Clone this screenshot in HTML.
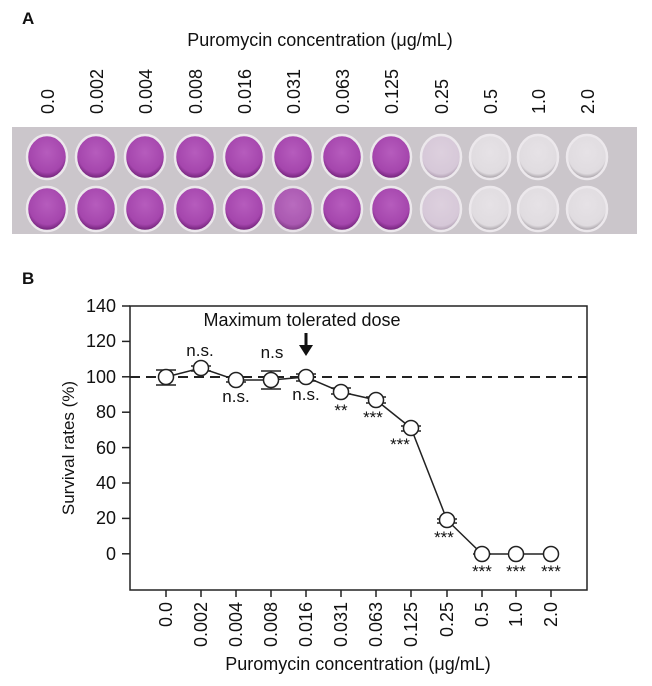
<!DOCTYPE html>
<html><head><meta charset="utf-8"><style>body{margin:0;background:#fff}svg{display:block}text{font-family:"Liberation Sans",Arial,sans-serif;fill:#111}</style></head>
<body>
<svg width="652" height="686" viewBox="0 0 652 686">
<defs>
<radialGradient id="p" cx="50%" cy="40%" r="60%"><stop offset="0" stop-color="#b65cbd"/><stop offset="0.75" stop-color="#a546ad"/><stop offset="1" stop-color="#6a1d72"/></radialGradient>
<radialGradient id="l" cx="50%" cy="40%" r="60%"><stop offset="0" stop-color="#ddd0de"/><stop offset="0.8" stop-color="#d6c8d8"/><stop offset="1" stop-color="#a896aa"/></radialGradient>
<radialGradient id="w" cx="50%" cy="40%" r="60%"><stop offset="0" stop-color="#e6e2e6"/><stop offset="0.8" stop-color="#e0dce0"/><stop offset="1" stop-color="#9c969c"/></radialGradient>
</defs>
<text x="22" y="24" font-size="17" font-weight="bold">A</text>
<text x="320" y="46" font-size="18" text-anchor="middle">Puromycin concentration (μg/mL)</text>
<g font-size="18">
<text transform="translate(54,114) rotate(-90)">0.0</text>
<text transform="translate(103,114) rotate(-90)">0.002</text>
<text transform="translate(152,114) rotate(-90)">0.004</text>
<text transform="translate(202,114) rotate(-90)">0.008</text>
<text transform="translate(251,114) rotate(-90)">0.016</text>
<text transform="translate(300,114) rotate(-90)">0.031</text>
<text transform="translate(349,114) rotate(-90)">0.063</text>
<text transform="translate(398,114) rotate(-90)">0.125</text>
<text transform="translate(448,114) rotate(-90)">0.25</text>
<text transform="translate(497,114) rotate(-90)">0.5</text>
<text transform="translate(545,114) rotate(-90)">1.0</text>
<text transform="translate(594,114) rotate(-90)">2.0</text>
</g>
<rect x="12" y="127" width="625" height="107" fill="#cbc6cb"/>
<g stroke="#ece8ec" stroke-width="2.5">
<ellipse cx="47" cy="157" rx="20" ry="22" fill="url(#p)"/><ellipse cx="96" cy="157" rx="20" ry="22" fill="url(#p)"/><ellipse cx="145" cy="157" rx="20" ry="22" fill="url(#p)"/><ellipse cx="195" cy="157" rx="20" ry="22" fill="url(#p)"/><ellipse cx="244" cy="157" rx="20" ry="22" fill="url(#p)"/><ellipse cx="293" cy="157" rx="20" ry="22" fill="url(#p)"/><ellipse cx="342" cy="157" rx="20" ry="22" fill="url(#p)"/><ellipse cx="391" cy="157" rx="20" ry="22" fill="url(#p)"/><ellipse cx="441" cy="157" rx="20" ry="22" fill="url(#l)"/><ellipse cx="490" cy="157" rx="20" ry="22" fill="url(#w)"/><ellipse cx="538" cy="157" rx="20" ry="22" fill="url(#w)"/><ellipse cx="587" cy="157" rx="20" ry="22" fill="url(#w)"/>
<ellipse cx="47" cy="209" rx="20" ry="22" fill="url(#p)"/><ellipse cx="96" cy="209" rx="20" ry="22" fill="url(#p)"/><ellipse cx="145" cy="209" rx="20" ry="22" fill="url(#p)"/><ellipse cx="195" cy="209" rx="20" ry="22" fill="url(#p)"/><ellipse cx="244" cy="209" rx="20" ry="22" fill="url(#p)"/><ellipse cx="293" cy="209" rx="20" ry="22" fill="url(#p)" opacity="0.85"/><ellipse cx="342" cy="209" rx="20" ry="22" fill="url(#p)"/><ellipse cx="391" cy="209" rx="20" ry="22" fill="url(#p)"/><ellipse cx="441" cy="209" rx="20" ry="22" fill="url(#l)"/><ellipse cx="490" cy="209" rx="20" ry="22" fill="url(#w)"/><ellipse cx="538" cy="209" rx="20" ry="22" fill="url(#w)"/><ellipse cx="587" cy="209" rx="20" ry="22" fill="url(#w)"/>
</g>
<text x="22" y="284" font-size="17" font-weight="bold">B</text>
<rect x="130" y="306" width="457" height="284" fill="none" stroke="#222" stroke-width="1.5"/>
<g stroke="#222" stroke-width="1.5">
<line x1="122" y1="306" x2="130" y2="306"/><line x1="122" y1="341.4" x2="130" y2="341.4"/><line x1="122" y1="376.8" x2="130" y2="376.8"/><line x1="122" y1="412.2" x2="130" y2="412.2"/><line x1="122" y1="447.6" x2="130" y2="447.6"/><line x1="122" y1="483" x2="130" y2="483"/><line x1="122" y1="518.4" x2="130" y2="518.4"/><line x1="122" y1="553.8" x2="130" y2="553.8"/>
</g>
<g font-size="18" text-anchor="end">
<text x="116" y="312">140</text><text x="116" y="347">120</text><text x="116" y="383">100</text><text x="116" y="418">80</text><text x="116" y="454">60</text><text x="116" y="489">40</text><text x="116" y="524">20</text><text x="116" y="560">0</text>
</g>
<text transform="translate(74,448) rotate(-90)" font-size="17" text-anchor="middle">Survival rates  (%)</text>
<line x1="130" y1="377" x2="587" y2="377" stroke="#222" stroke-width="2" stroke-dasharray="10,6"/>
<g stroke="#222" stroke-width="1.5">
<line x1="166" y1="590" x2="166" y2="597"/><line x1="201" y1="590" x2="201" y2="597"/><line x1="236" y1="590" x2="236" y2="597"/><line x1="271" y1="590" x2="271" y2="597"/><line x1="306" y1="590" x2="306" y2="597"/><line x1="341" y1="590" x2="341" y2="597"/><line x1="376" y1="590" x2="376" y2="597"/><line x1="411" y1="590" x2="411" y2="597"/><line x1="447" y1="590" x2="447" y2="597"/><line x1="482" y1="590" x2="482" y2="597"/><line x1="516" y1="590" x2="516" y2="597"/><line x1="551" y1="590" x2="551" y2="597"/>
</g>
<g font-size="18" text-anchor="end">
<text transform="translate(172,602) rotate(-90)">0.0</text><text transform="translate(207,602) rotate(-90)">0.002</text><text transform="translate(242,602) rotate(-90)">0.004</text><text transform="translate(277,602) rotate(-90)">0.008</text><text transform="translate(312,602) rotate(-90)">0.016</text><text transform="translate(347,602) rotate(-90)">0.031</text><text transform="translate(382,602) rotate(-90)">0.063</text><text transform="translate(417,602) rotate(-90)">0.125</text><text transform="translate(453,602) rotate(-90)">0.25</text><text transform="translate(488,602) rotate(-90)">0.5</text><text transform="translate(522,602) rotate(-90)">1.0</text><text transform="translate(557,602) rotate(-90)">2.0</text>
</g>
<text x="358" y="670" font-size="18" text-anchor="middle">Puromycin concentration (μg/mL)</text>
<g stroke="#222" stroke-width="1.5" fill="none">
<path d="M156 370H176M166 370V385M156 385H176"/>
<path d="M191 366H211M201 366V371M191 371H211"/>
<path d="M226 377H246M226 382H246"/>
<path d="M261 371H281M271 371V389M261 389H281"/>
<path d="M296 374H316M296 381H316"/>
<path d="M331 388H351M331 394H351"/>
<path d="M366 397H386M366 403H386"/>
<path d="M401 426H421M401 431H421"/>
<path d="M437 519H457M437 523H457"/>
<path d="M473 554H491"/>
<polyline points="166,377 201,368 236,380 271,380 306,377 341,392 376,400 411,428 447,520 482,554 516,554 551,554"/>
</g>
<g fill="#fff" stroke="#222" stroke-width="1.5">
<circle cx="166" cy="377" r="7.5"/><circle cx="201" cy="368" r="7.5"/><circle cx="236" cy="380" r="7.5"/><circle cx="271" cy="380" r="7.5"/><circle cx="306" cy="377" r="7.5"/><circle cx="341" cy="392" r="7.5"/><circle cx="376" cy="400" r="7.5"/><circle cx="411" cy="428" r="7.5"/><circle cx="447" cy="520" r="7.5"/><circle cx="482" cy="554" r="7.5"/><circle cx="516" cy="554" r="7.5"/><circle cx="551" cy="554" r="7.5"/>
</g>
<text x="302" y="326" font-size="18" text-anchor="middle">Maximum tolerated dose</text>
<path d="M306 333V347" stroke="#111" stroke-width="3"/><path d="M299 345L306 356L313 345Z" fill="#111"/>
<g font-size="17" text-anchor="middle">
<text x="200" y="356">n.s.</text><text x="236" y="402">n.s.</text><text x="272" y="358">n.s</text><text x="306" y="400">n.s.</text>
</g>
<g font-size="17" text-anchor="middle">
<text x="341" y="416">**</text><text x="373" y="423">***</text><text x="400" y="450">***</text><text x="444" y="543">***</text><text x="482" y="577">***</text><text x="516" y="577">***</text><text x="551" y="577">***</text>
</g>
</svg>
</body></html>
